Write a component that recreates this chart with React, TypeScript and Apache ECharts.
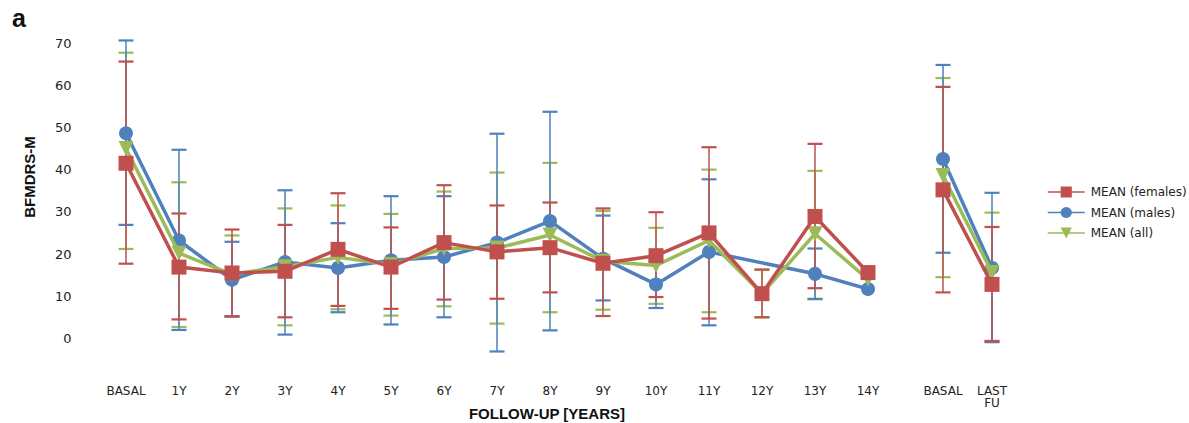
import React, { useEffect, useRef } from "react";
import * as echarts from "echarts";

const categories = ["BASAL", "1Y", "2Y", "3Y", "4Y", "5Y", "6Y", "7Y", "8Y", "9Y", "10Y", "11Y", "12Y", "13Y", "14Y"];
const categories2 = ["BASAL", "LAST\nFU"];

const femaleMean = [41.5, 16.9, 15.5, 15.9, 21.1, 16.9, 22.7, 20.5, 21.5, 17.8, 19.6, 25.0, 10.6, 28.9, 15.6];
const femaleHigh = [65.6, 29.6, 25.8, 26.9, 34.4, 26.3, 36.3, 31.5, 32.2, 30.8, 29.9, 45.3, 16.3, 46.1, null];
const femaleLow = [17.7, 4.5, 5.2, 5.0, 7.7, 7.0, 9.2, 9.4, 10.9, 5.3, 9.8, 4.7, 5.0, 11.9, null];

const maleMean = [48.6, 23.2, 13.9, 18.1, 16.7, 18.5, 19.3, 22.7, 27.8, 18.9, 12.8, 20.5, null, 15.3, 11.7];
const maleHigh = [70.6, 44.7, 22.9, 35.1, 27.3, 33.7, 33.7, 48.5, 53.7, 29.1, 18.4, 37.7, null, 21.3, null];
const maleLow = [26.9, 2.0, 5.2, 0.9, 6.2, 3.3, 5.0, -3.1, 1.9, 9.0, 7.2, 3.1, null, 9.3, null];

const allMean = [45.0, 20.2, 15.2, 17.0, 19.2, 17.5, 21.3, 21.4, 24.5, 18.3, 17.3, 23.2, 10.6, 24.8, 14.0];
const allHigh = [67.7, 37.0, 24.4, 30.8, 31.5, 29.5, 34.8, 39.3, 41.6, 30.2, 26.2, 40.0, 16.3, 39.7, null];
const allLow = [21.2, 2.7, 5.2, 3.1, 6.9, 5.4, 7.6, 3.5, 6.2, 6.8, 8.2, 6.2, 5.0, 9.4, null];

const femaleMean2 = [35.2, 12.8];
const femaleHigh2 = [59.6, 26.4];
const femaleLow2 = [10.9, -0.6];
const maleMean2 = [42.5, 16.7];
const maleHigh2 = [64.8, 34.5];
const maleLow2 = [20.3, -0.9];
const allMean2 = [38.6, 15.6];
const allHigh2 = [61.7, 29.8];
const allLow2 = [14.5, -0.8];

const yTicks = [0, 10, 20, 30, 40, 50, 60, 70];

const RED = "#C0504D";
const BLUE = "#4F81BD";
const GREEN = "#9BBB59";
const TRI = "path://M0,0 L10,0 L5,9 Z";

function errData(low: (number | null)[], high: (number | null)[]) {
  const out: number[][] = [];
  low.forEach((l, i) => {
    const h = high[i];
    if (l != null && h != null) out.push([i, l, h]);
  });
  return out;
}

function errSeries(color: string, low: (number | null)[], high: (number | null)[], idx: number) {
  return {
    type: "custom",
    xAxisIndex: idx,
    yAxisIndex: idx,
    z: 1,
    silent: true,
    encode: { x: 0, y: [1, 2] },
    data: errData(low, high),
    renderItem: (params: any, api: any) => {
      const x = api.value(0);
      const p1 = api.coord([x, api.value(1)]);
      const p2 = api.coord([x, api.value(2)]);
      const w = 7.5;
      return {
        type: "group",
        children: [
          { type: "line", shape: { x1: p1[0], y1: p1[1], x2: p2[0], y2: p2[1] }, style: { stroke: color, lineWidth: 1.5 } },
          { type: "line", shape: { x1: p1[0] - w, y1: p1[1], x2: p1[0] + w, y2: p1[1] }, style: { stroke: color, lineWidth: 2.2 } },
          { type: "line", shape: { x1: p2[0] - w, y1: p2[1], x2: p2[0] + w, y2: p2[1] }, style: { stroke: color, lineWidth: 2.2 } },
        ],
      };
    },
  };
}

function lineSeries(name: string, color: string, symbol: string, size: number, data: (number | null)[], idx: number, z: number) {
  return {
    type: "line",
    name,
    xAxisIndex: idx,
    yAxisIndex: idx,
    data,
    z,
    connectNulls: true,
    symbol,
    symbolSize: size,
    showAllSymbol: true,
    lineStyle: { color, width: 3.5 },
    itemStyle: { color, opacity: 1 },
    emphasis: { disabled: true },
  };
}

export default function App() {
  const ref = useRef<HTMLDivElement>(null);
  useEffect(() => {
    if (!ref.current) return;
    const chart = echarts.init(ref.current, null, { renderer: "svg" });
    const font = "DejaVu Sans";
    const yAxisBase = {
      type: "value",
      min: -10,
      max: 70,
      interval: 10,
      axisLine: { show: false },
      axisTick: { show: false },
      splitLine: { show: false },
    };
    const xAxisBase = {
      type: "category",
      boundaryGap: true,
      axisLine: { show: false },
      axisTick: { show: false },
      splitLine: { show: false },
      axisLabel: { fontFamily: font, fontSize: 12, color: "#222", margin: 4, lineHeight: 12, interval: 0 },
    };
    chart.setOption({
      animation: false,
      backgroundColor: "#ffffff",
      grid: [
        { left: 99.5, top: 43, width: 795, height: 337.6 },
        { left: 918.5, top: 43, width: 98, height: 337.6 },
      ],
      xAxis: [
        { ...xAxisBase, gridIndex: 0, data: categories },
        { ...xAxisBase, gridIndex: 1, data: categories2 },
      ],
      yAxis: [
        {
          ...yAxisBase,
          gridIndex: 0,
          axisLabel: {
            fontFamily: font,
            fontSize: 13,
            color: "#222",
            margin: 28,
            formatter: (v: number) => (yTicks.includes(v) ? String(v) : ""),
          },
        },
        { ...yAxisBase, gridIndex: 1, axisLabel: { show: false } },
      ],
      legend: {
        orient: "vertical",
        left: 1047,
        top: 186,
        padding: 0,
        itemWidth: 37,
        itemHeight: 14,
        itemGap: 8.5,
        data: ["MEAN (females)", "MEAN (males)", "MEAN (all)"],
        textStyle: { fontFamily: font, fontSize: 12, color: "#222", padding: [0, 0, 0, 1] },
        lineStyle: { width: 1.5 },
      },
      graphic: [
        { type: "text", left: 12, top: 5, style: { text: "a", fontFamily: "Liberation Sans", fontWeight: "bold", fontSize: 25, fill: "#111" } },
        {
          type: "text",
          x: 547,
          y: 413,
          style: { text: "FOLLOW-UP [YEARS]", fontFamily: "Liberation Sans", fontWeight: "bold", fontSize: 15, fill: "#111", align: "center", verticalAlign: "middle" },
        },
        {
          type: "text",
          x: 29,
          y: 177,
          rotation: Math.PI / 2,
          style: { text: "BFMDRS-M", fontFamily: "Liberation Sans", fontWeight: "bold", fontSize: 15, fill: "#111", align: "center", verticalAlign: "middle" },
        },
      ],
      series: [
        errSeries(GREEN, allLow, allHigh, 0),
        errSeries(BLUE, maleLow, maleHigh, 0),
        errSeries(RED, femaleLow, femaleHigh, 0),
        errSeries(GREEN, allLow2, allHigh2, 1),
        errSeries(BLUE, maleLow2, maleHigh2, 1),
        errSeries(RED, femaleLow2, femaleHigh2, 1),
        lineSeries("MEAN (males)", BLUE, "circle", 14, maleMean, 0, 2),
        lineSeries("MEAN (all)", GREEN, TRI, 15, allMean, 0, 3),
        lineSeries("MEAN (females)", RED, "rect", 15, femaleMean, 0, 4),
        lineSeries("MEAN (males)", BLUE, "circle", 14, maleMean2, 1, 2),
        lineSeries("MEAN (all)", GREEN, TRI, 15, allMean2, 1, 3),
        lineSeries("MEAN (females)", RED, "rect", 15, femaleMean2, 1, 4),
      ],
    });
    return () => chart.dispose();
  }, []);
  return <div ref={ref} style={{ position: "fixed", left: 0, top: 0, width: 1189, height: 423, background: "#fff" }} />;
}
